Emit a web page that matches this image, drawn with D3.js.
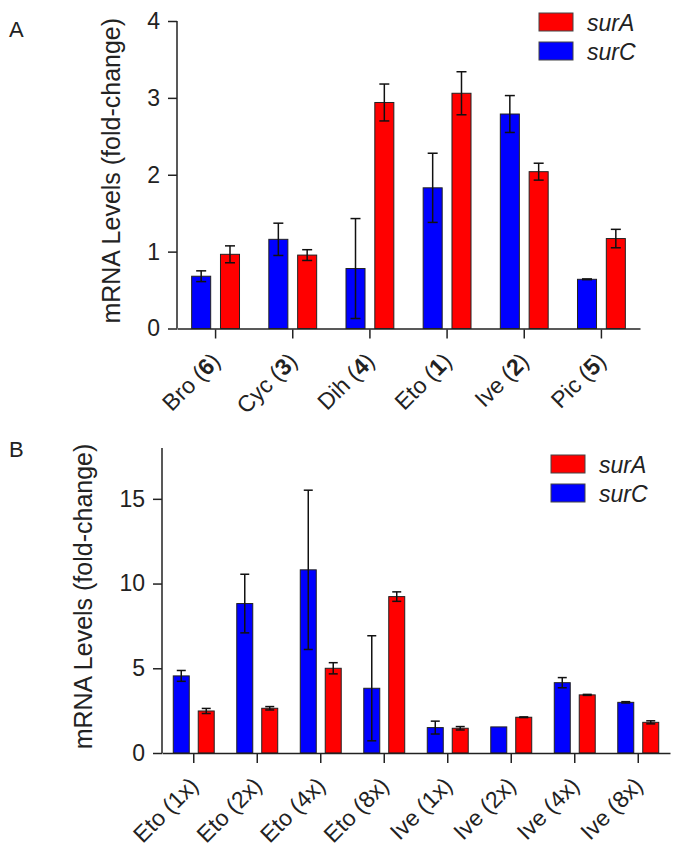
<!DOCTYPE html>
<html>
<head>
<meta charset="utf-8">
<script src="https://cdn.jsdelivr.net/npm/d3@7"></script>
<style>
  body { margin: 0; background: #fff; }
  svg { display: block; font-family: "Liberation Sans", Arial, sans-serif; }
</style>
</head>
<body>
<script>
// panel A: compounds, number in parens is bold
var aNames = ['Bro', 'Cyc', 'Dih', 'Eto', 'Ive', 'Pic']
var aNums = ['6', '3', '4', '1', '2', '5']
var aSurC = [0.68, 1.16, 0.78, 1.83, 2.79, 0.64]
var aSurCErr = [0.07, 0.21, 0.65, 0.45, 0.24, 0.005]
var aSurA = [0.965, 0.955, 2.94, 3.06, 2.04, 1.17]
var aSurAErr = [0.11, 0.07, 0.24, 0.28, 0.11, 0.12]
var aTicks = [0, 1, 2, 3, 4]

// panel B: dose series
var bNames = ['Eto (1x)', 'Eto (2x)', 'Eto (4x)', 'Eto (8x)', 'Ive (1x)', 'Ive (2x)', 'Ive (4x)', 'Ive (8x)']
var bSurC = [4.55, 8.82, 10.81, 3.82, 1.50, 1.54, 4.15, 2.99]
var bSurCErr = [0.32, 1.73, 4.7, 3.1, 0.38, 0, 0.3, 0.04]
var bSurA = [2.48, 2.64, 5.0, 9.23, 1.46, 2.11, 3.43, 1.81]
var bSurAErr = [0.15, 0.1, 0.33, 0.28, 0.1, 0.02, 0.03, 0.09]
var bTicks = [0, 5, 10, 15]

var colors = { surA: '#ff0000', surC: '#0000ff' }

var svg = d3.select('body').append('svg')
  .attr('width', 681)
  .attr('height', 857)

function drawPanel(o) {
  var g = svg.append('g')

  var x = d3.scaleBand().domain(d3.range(o.names.length))
    .range([o.left, o.right]).paddingInner(o.pad).paddingOuter(o.pad / 2)
  var sub = d3.scaleBand().domain(['surC', 'surA'])
    .range([0, x.bandwidth()]).paddingInner(o.subPad)
  var y = d3.scaleLinear().domain([0, o.yMax]).range([o.bottom, o.top])

  // bars + error bars
  var rows = []
  o.names.forEach(function(n, i) {
    rows.push({ i: i, key: 'surC', v: o.surC[i], e: o.surCErr[i] })
    rows.push({ i: i, key: 'surA', v: o.surA[i], e: o.surAErr[i] })
  })

  g.selectAll('rect.bar').data(rows).enter().append('rect')
    .attr('class', 'bar')
    .attr('x', function(d) { return x(d.i) + sub(d.key) })
    .attr('y', function(d) { return y(d.v) })
    .attr('width', sub.bandwidth())
    .attr('height', function(d) { return y(0) - y(d.v) })
    .style('fill', function(d) { return colors[d.key] })
    .style('stroke', '#222')
    .style('stroke-width', 1)

  var err = g.selectAll('g.err').data(rows.filter(function(d) { return d.e > 0 }))
    .enter().append('g').attr('class', 'err')
    .style('stroke', '#111').style('stroke-width', 1.5)
  var cx = function(d) { return x(d.i) + sub(d.key) + sub.bandwidth() / 2 }
  err.append('line')
    .attr('x1', cx).attr('x2', cx)
    .attr('y1', function(d) { return y(d.v + d.e) })
    .attr('y2', function(d) { return y(d.v - d.e) })
  ;[1, -1].forEach(function(s) {
    err.append('line')
      .attr('x1', function(d) { return cx(d) - o.cap })
      .attr('x2', function(d) { return cx(d) + o.cap })
      .attr('y1', function(d) { return y(d.v + s * d.e) })
      .attr('y2', function(d) { return y(d.v + s * d.e) })
  })

  // y axis
  var ya = g.append('g').attr('transform', 'translate(' + o.left + ',0)')
    .call(d3.axisLeft(y).tickValues(o.ticks).tickFormat(d3.format('d'))
      .tickSize(9).tickSizeOuter(0).tickPadding(8))
  ya.select('.domain').attr('d', 'M0,' + y(o.yMax) + 'V' + o.bottom)
  ya.selectAll('line, path').style('stroke', '#222').style('stroke-width', 1.5)
  ya.selectAll('text').style('font-size', '23px').style('fill', '#222')
    .style('font-family', '"Liberation Sans", Arial, sans-serif')

  // x axis
  var xa = g.append('g').attr('transform', 'translate(0,' + o.bottom + ')')
    .call(d3.axisBottom(x).tickSize(9).tickSizeOuter(0).tickFormat(''))
  xa.selectAll('line, path').style('stroke', '#222').style('stroke-width', 1.5)
  xa.selectAll('.tick line').attr('transform', 'translate(0,1)')

  g.selectAll('text.xl').data(o.names).enter().append('text')
    .attr('class', 'xl')
    .attr('text-anchor', 'end')
    .attr('transform', function(d, i) {
      return 'translate(' + (x(i) + x.bandwidth() / 2 + 6) + ',' + (o.bottom + 34) + ') rotate(-45)'
    })
    .style('font-size', '23px').style('fill', '#222')
    .each(function(d, i) {
      var t = d3.select(this)
      if (o.nums) {
        t.append('tspan').text(d + ' (')
        t.append('tspan').style('font-weight', 'bold').text(o.nums[i])
        t.append('tspan').text(')')
      } else {
        t.text(d)
      }
    })

  // y title
  g.append('text')
    .attr('transform', 'translate(' + o.titleX + ',' + ((o.top + o.bottom) / 2 - 4) + ') rotate(-90)')
    .attr('text-anchor', 'middle')
    .style('font-size', '25px').style('fill', '#222')
    .text('mRNA Levels (fold-change)')

  // panel letter
  g.append('text').attr('x', 9).attr('y', o.letterY)
    .style('font-size', '22px').style('fill', '#222').text(o.letter)

  // legend
  var leg = g.append('g').attr('transform', 'translate(' + o.legX + ',' + o.legY + ')')
  ;['surA', 'surC'].forEach(function(k, i) {
    leg.append('rect').attr('x', 0).attr('y', i * 29).attr('width', 34).attr('height', 18)
      .style('fill', colors[k]).style('stroke', '#444').style('stroke-width', 1)
    leg.append('text').attr('x', 48).attr('y', i * 29 + 18)
      .style('font-size', '23px').style('font-style', 'italic').style('fill', '#222')
      .text(k)
  })
}

drawPanel({
  names: aNames, nums: aNums, surC: aSurC, surCErr: aSurCErr, surA: aSurA, surAErr: aSurAErr,
  ticks: aTicks, yMax: 4, left: 177, right: 640, top: 21, bottom: 328.5,
  pad: 0.38, subPad: 0.34, cap: 5, titleX: 120, letter: 'A', letterY: 37, legX: 539, legY: 13
})

drawPanel({
  names: bNames, surC: bSurC, surCErr: bSurCErr, surA: bSurA, surAErr: bSurAErr,
  ticks: bTicks, yMax: 18, left: 162, right: 670, top: 448, bottom: 753,
  pad: 0.355, subPad: 0.36, cap: 4.5, titleX: 92, letter: 'B', letterY: 457, legX: 551, legY: 455
})
</script>
</body>
</html>
